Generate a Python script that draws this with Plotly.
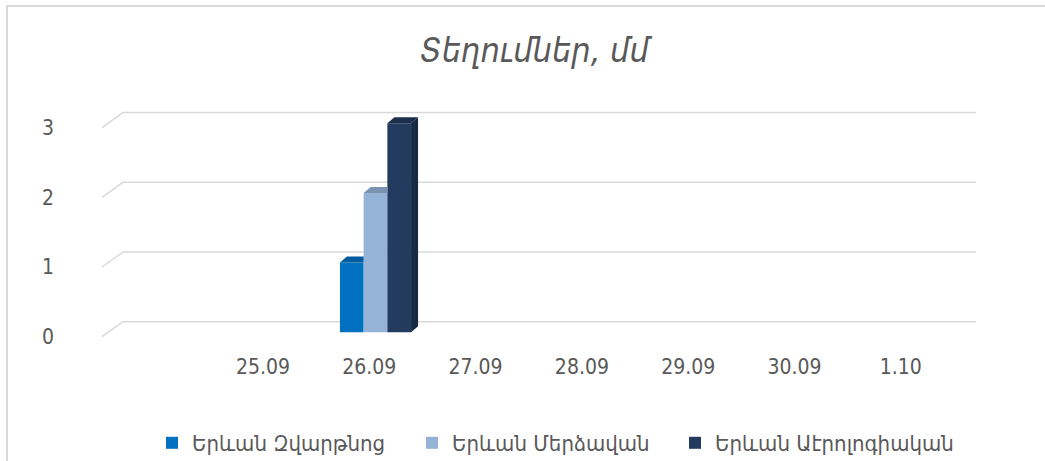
import plotly.graph_objects as go

# ---------------- data ----------------
categories = ["25.09", "26.09", "27.09", "28.09", "29.09", "30.09", "1.10"]
zvartnots = [0, 1, 0, 0, 0, 0, 0]
merdzavan = [0, 2, 0, 0, 0, 0, 0]
aerological = [0, 3, 0, 0, 0, 0, 0]
series_names = ["Երևան Զվարթնոց", "Երևան Մերձավան", "Երևան Աէրոլոգիական"]
y_ticks = [0, 1, 2, 3]
title_text = "Տեղումներ, մմ"

# ---------------- styling / geometry (screen pixels) ----------------
W, H = 1045, 461
L, R, T, B = 98, 976, 100, 345          # plot-area pixels
GRID_LEFT_PX = 102
PX_X, X0_PX = 106.3, 284.0              # back-plane category spacing & origin
PX_Y, Y0_PX = 69.7, 321.7               # back-plane value scale & zero
FRONT_DX_PX, FRONT_DY_PX = 21.0, 15.0   # floor depth
BAR_DX_PX, BAR_DY_PX = 14.8, 10.6       # bar plane offset
DEPTH_DX_PX, DEPTH_DY_PX = 7.0, 6.0     # bar 3D depth
BARGAP = 0.331
LEGEND_X_PX = [152, 412, 675]
LEGEND_Y_PX = 443

front_colors = ["#0070C0", "#95B3D7", "#223B5E"]
top_colors = ["#005C9E", "#7A93B2", "#1B2F4D"]
side_colors = ["#005190", "#6D84A1", "#172943"]
text_color = "#595959"
grid_color = "#D9D9D9"
font_fam = "DejaVu Sans Condensed, DejaVu Sans, sans-serif"

xr = [(L - X0_PX) / PX_X, (R - X0_PX) / PX_X]
yr = [(Y0_PX - B) / PX_Y, (Y0_PX - T) / PX_Y]
fdx, fdy = FRONT_DX_PX / PX_X, FRONT_DY_PX / PX_Y
bdx, bdy = BAR_DX_PX / PX_X, BAR_DY_PX / PX_Y
ddx, ddy = DEPTH_DX_PX / PX_X, DEPTH_DY_PX / PX_Y
gx0 = (GRID_LEFT_PX - X0_PX) / PX_X


def px_to_paper_x(p):
    return (p - L) / (R - L)


def px_to_paper_y(p):
    return (B - p) / (B - T)


fig = go.Figure()

# gridlines (back wall + slanted floor edge)
gx, gy = [], []
for v in y_ticks:
    gx += [gx0, gx0 + fdx, xr[1], None]
    gy += [v - fdy, v, v, None]
fig.add_trace(go.Scatter(x=gx, y=gy, mode="lines", line=dict(color=grid_color, width=1.5),
                         hoverinfo="skip", showlegend=False, xaxis="x", yaxis="y"))

series = [zvartnots, merdzavan, aerological]
xs = list(range(len(categories)))
legend_ids = ["legend", "legend2", "legend3"]
for k, vals in enumerate(series):
    fig.add_trace(go.Bar(x=xs, y=vals, name=series_names[k],
                         marker=dict(color=front_colors[k], line=dict(width=0)),
                         legend=legend_ids[k], xaxis="x2", yaxis="y2"))

# 3D faces derived from the values
n = len(series)
bw = (1 - BARGAP) / n
for i in xs:
    for k, vals in enumerate(series):
        h = vals[i]
        if h <= 0:
            continue
        xl = i - (1 - BARGAP) / 2 + k * bw
        xrt = xl + bw
        nxt = series[k + 1][i] if k + 1 < n else None
        hidden_right = nxt is not None and nxt > h
        xbr = xrt if hidden_right else xrt + ddx
        fig.add_trace(go.Scatter(x=[xl, xl + ddx, xbr, xrt, xl], y=[h, h + ddy, h + ddy, h, h],
                                 fill="toself", fillcolor=top_colors[k], mode="lines",
                                 line=dict(width=0, color=top_colors[k]), hoverinfo="skip",
                                 showlegend=False, xaxis="x2", yaxis="y2"))
        if not hidden_right and (nxt is None or nxt < h):
            fig.add_trace(go.Scatter(x=[xrt, xrt, xrt + ddx, xrt + ddx, xrt], y=[0, h, h + ddy, ddy, 0],
                                     fill="toself", fillcolor=side_colors[k], mode="lines",
                                     line=dict(width=0, color=side_colors[k]), hoverinfo="skip",
                                     showlegend=False, xaxis="x2", yaxis="y2"))

legend_common = dict(orientation="h", xanchor="left", yanchor="middle",
                     y=px_to_paper_y(LEGEND_Y_PX), font=dict(size=22, color=text_color),
                     bgcolor="rgba(0,0,0,0)")

fig.update_layout(
    width=W, height=H,
    margin=dict(l=L, r=W - R, t=T, b=H - B, pad=0, autoexpand=False),
    paper_bgcolor="white", plot_bgcolor="rgba(0,0,0,0)",
    barmode="group", bargap=BARGAP, bargroupgap=0,
    font=dict(family=font_fam, color=text_color, size=20),
    title=dict(text=title_text, x=534.5 / W, xanchor="center", y=1 - 50 / H,
               yanchor="middle",
               font=dict(size=34, style="italic", color=text_color, family=font_fam)),
    xaxis=dict(range=xr, tickvals=[i - fdx for i in xs], ticktext=categories,
               showgrid=False, zeroline=False, showline=False, ticks="",
               ticklabelstandoff=7, tickfont=dict(size=21, color=text_color), fixedrange=True),
    yaxis=dict(range=yr, tickvals=[v - fdy for v in y_ticks], ticktext=[str(v) for v in y_ticks],
               showgrid=False, zeroline=False, showline=False, ticks="",
               ticklabelstandoff=43, tickfont=dict(size=21, color=text_color), fixedrange=True),
    xaxis2=dict(range=[xr[0] + bdx, xr[1] + bdx], overlaying="x", visible=False, fixedrange=True),
    yaxis2=dict(range=[yr[0] + bdy, yr[1] + bdy], overlaying="y", visible=False, fixedrange=True),
    legend=dict(x=px_to_paper_x(LEGEND_X_PX[0]), **legend_common),
    legend2=dict(x=px_to_paper_x(LEGEND_X_PX[1]), **legend_common),
    legend3=dict(x=px_to_paper_x(LEGEND_X_PX[2]), **legend_common),
    showlegend=True,
    shapes=[dict(type="rect", xref="paper", yref="paper",
                 x0=px_to_paper_x(7), x1=px_to_paper_x(W + 10),
                 y0=px_to_paper_y(H + 10), y1=px_to_paper_y(6),
                 line=dict(color=grid_color, width=2), fillcolor="rgba(0,0,0,0)", layer="below")],
)

fig.write_html("out.html", config={"displayModeBar": False},
               post_script="document.body.style.margin='0';")
